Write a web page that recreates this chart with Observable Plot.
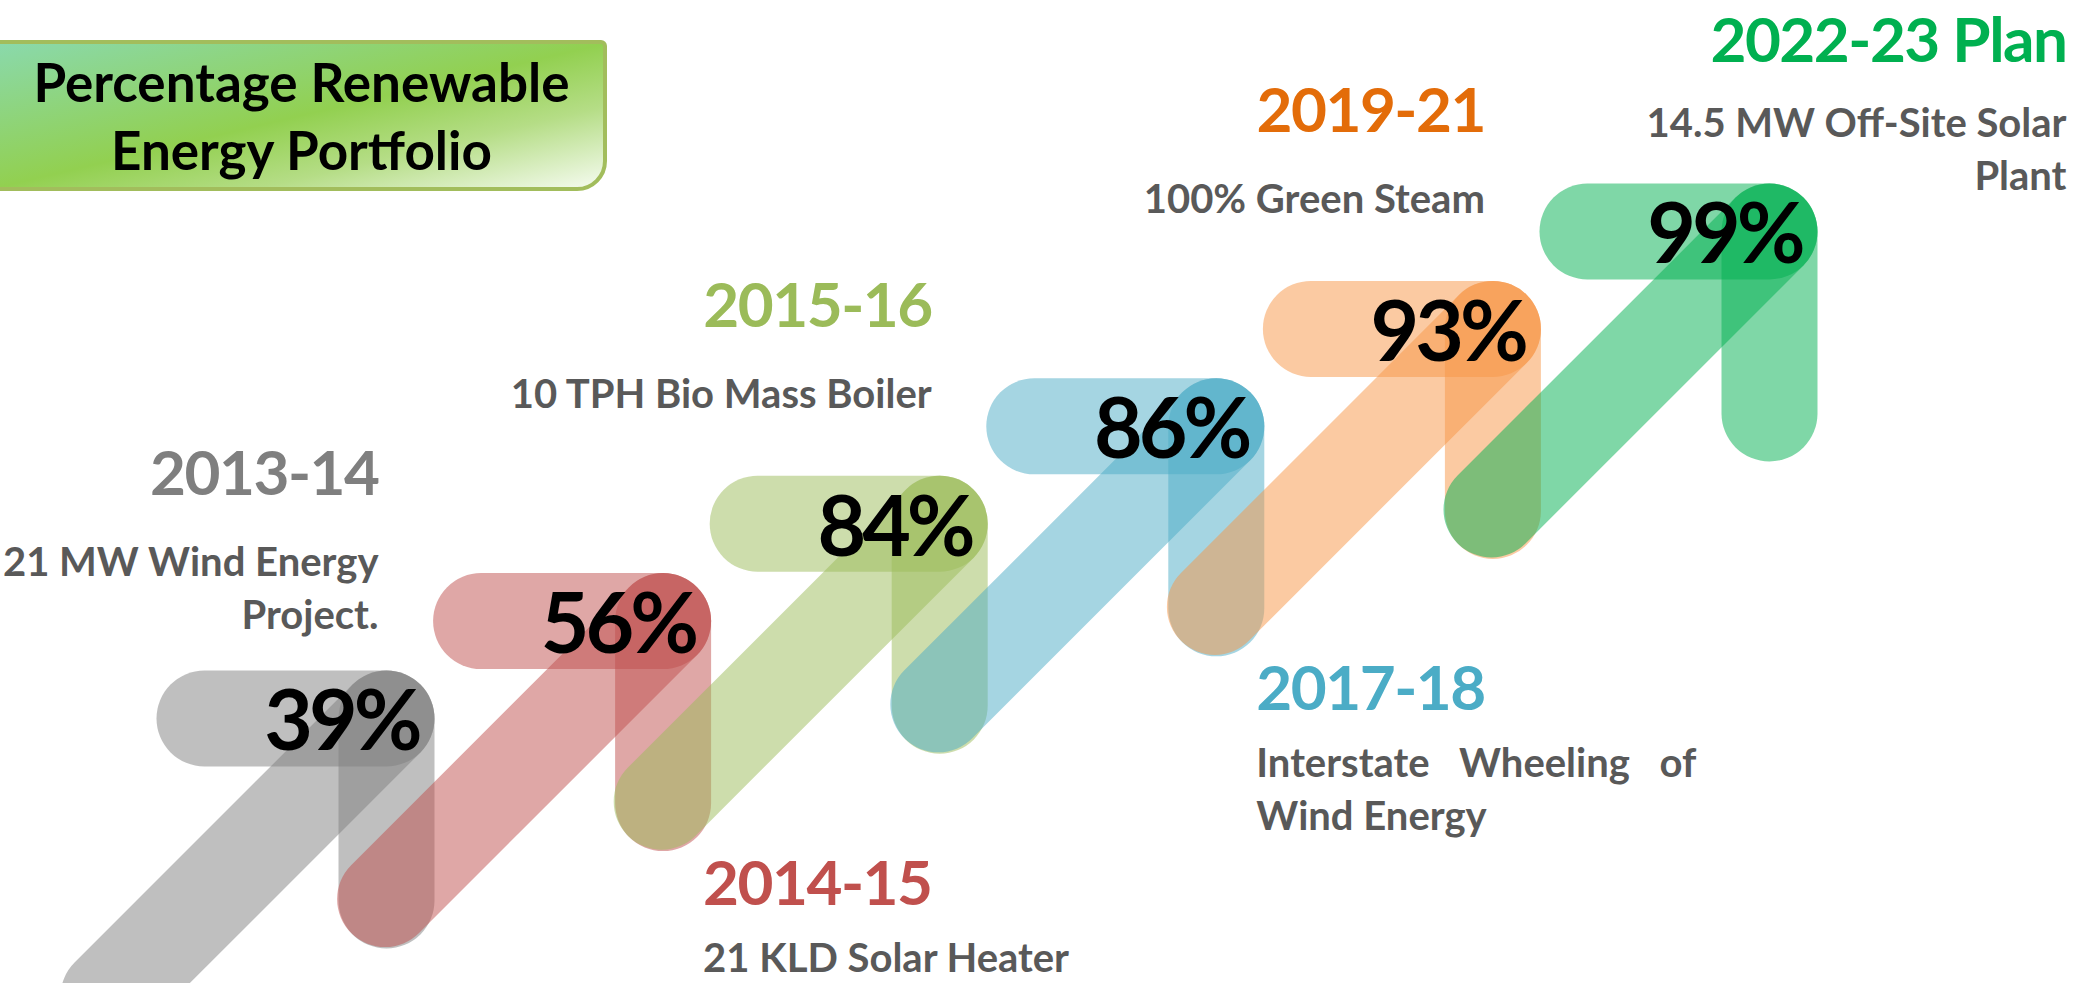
<!DOCTYPE html>
<html><head><meta charset="utf-8">
<script src="https://cdn.jsdelivr.net/npm/d3@7"></script>
<script src="https://cdn.jsdelivr.net/npm/@observablehq/plot@0.6"></script>
<style>
html,body{margin:0;padding:0;background:#fff;overflow:hidden}
#wrap{position:relative;width:2093px;height:983px}
#title{position:absolute;left:-4px;top:40px;width:603px;height:143px;border:4px solid #a2bd5c;border-radius:0 6px 30px 0;
background:linear-gradient(to bottom right,#8ad9ab 0%,#92d050 50%,#b5dd86 72%,#f5fbef 100%);
font-family:Lato,sans-serif;font-weight:700;font-size:53px;line-height:68px;text-align:center;color:#000;
display:flex;flex-direction:column;justify-content:center;z-index:2}
#chart{position:absolute;left:0;top:0}
</style></head><body><div id="wrap"><div id="chart"></div><div id="title"><div>Percentage Renewable</div><div>Energy Portfolio</div></div></div>
<script>
// ---- data ----
const periods = ["2013-14", "2014-15", "2015-16", "2017-18", "2019-21", "2022-23 Plan"];
const percents = [39, 56, 84, 86, 93, 99];
const projects = ["21 MW Wind Energy\nProject.", "21 KLD Solar Heater", "10 TPH Bio Mass Boiler", "Interstate Wheeling of\nWind Energy", "100% Green Steam", "14.5 MW Off-Site Solar\nPlant"];
const arrowColors = ["#7f7f7f", "#c0504d", "#9bbb59", "#4bacc6", "#f79646", "#00b050"];
const periodColors = ["#7f7f7f", "#c0504d", "#9bbb59", "#4bacc6", "#e36c09", "#00b050"];
const labelSide = ["above", "below", "above", "below", "above", "corner"];

// ---- layout ----
const W = 2093, H = 983;
const xDomain = [0, 5], xRange = [386, 1769];
const yDomain = [0, 5], yRange = [718, 231];
const kx = (xRange[1] - xRange[0]) / (xDomain[1] - xDomain[0]);
const ky = (yRange[0] - yRange[1]) / (yDomain[1] - yDomain[0]);
const ARM = 182, DIAG = 278, BAND = 96, LINE = 53;

const rows = periods.map((p, i) => {
  const n = projects[i].split("\n").length;
  const side = labelSide[i];
  let yearPx, firstPx, xPx;
  if (side === "above") { const c = -133; firstPx = c - (n - 1) / 2 * LINE; yearPx = firstPx - 84; xPx = -8; }
  else if (side === "below") { yearPx = 264; firstPx = yearPx + 70; xPx = 40; }
  else { yearPx = -189; firstPx = -111; xPx = 297; }
  const blockPx = firstPx + (n - 1) / 2 * LINE;
  return {
    i, period: p, pct: percents[i], project: projects[i], color: arrowColors[i], pcolor: periodColors[i], side,
    lx: i + xPx / kx, yearY: i - yearPx / ky, descY: i - blockPx / ky,
    anchor: side === "below" ? "start" : "end"
  };
});

const segs = rows.flatMap(d => [
  {x1: d.i - ARM / kx, y1: d.i, x2: d.i, y2: d.i, color: d.color},
  {x1: d.i, y1: d.i - ARM / ky, x2: d.i, y2: d.i, color: d.color},
  {x1: d.i - DIAG / kx, y1: d.i - DIAG / ky, x2: d.i, y2: d.i, color: d.color}
]);

const font = "Lato, 'Open Sans', sans-serif";
const chart = Plot.plot({
  width: W, height: H,
  marginLeft: 0, marginRight: 0, marginTop: 0, marginBottom: 0,
  x: {domain: xDomain, range: xRange, axis: null},
  y: {domain: yDomain, range: yRange, axis: null},
  color: {type: "identity"},
  style: {background: "#fff", fontFamily: font},
  marks: [
    Plot.link(segs, {x1: "x1", y1: "y1", x2: "x2", y2: "y2", stroke: "color", strokeWidth: BAND, strokeLinecap: "round", strokeOpacity: 0.5}),
    Plot.text(rows, {x: "i", y: "i", text: d => d.pct + "%", textAnchor: "end", dx: 32, dy: 5, fontSize: 84, fontWeight: 700, fill: "#000", fontFamily: font}),
    Plot.text(rows.filter(d => d.anchor === "end"), {x: "lx", y: "yearY", text: "period", textAnchor: "end", fill: "pcolor", fontSize: 62, fontWeight: 700, fontFamily: font}),
    Plot.text(rows.filter(d => d.anchor === "start"), {x: "lx", y: "yearY", text: "period", textAnchor: "start", fill: "pcolor", fontSize: 62, fontWeight: 700, fontFamily: font}),
    Plot.text(rows.filter(d => d.anchor === "end"), {x: "lx", y: "descY", text: "project", textAnchor: "end", fill: "#595959", fontSize: 40, lineHeight: LINE / 40, fontWeight: 700, fontFamily: font}),
    Plot.text(rows.filter(d => d.anchor === "start"), {x: "lx", y: "descY", text: "project", textAnchor: "start", fill: "#595959", fontSize: 40, lineHeight: LINE / 40, fontWeight: 700, fontFamily: font})
  ]
});
document.getElementById("chart").appendChild(chart);
const svg = d3.select(chart);
svg.selectAll('g[font-size="84"]').attr("letter-spacing", -4);
svg.selectAll('g[font-size="62"]').attr("letter-spacing", -1.5);
svg.selectAll("tspan").filter(function () { return this.textContent === "Interstate Wheeling of"; }).attr("word-spacing", 20);
</script>
</body></html>
